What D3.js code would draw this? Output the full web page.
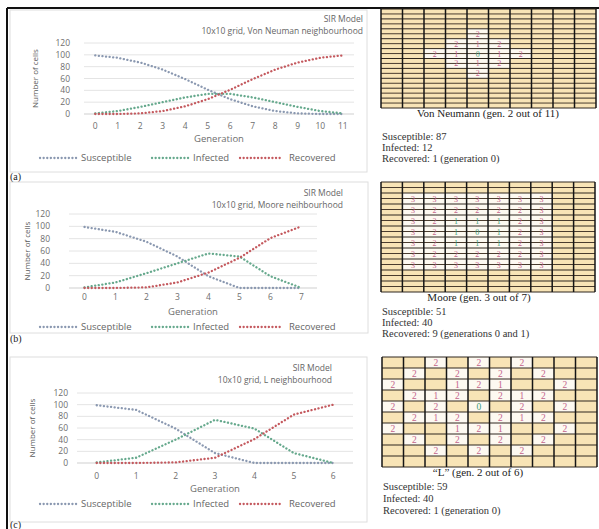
<!DOCTYPE html>
<html><head><meta charset="utf-8">
<script src="https://cdn.jsdelivr.net/npm/d3@7"></script>
<style>body{margin:0;background:#fff}svg{display:block}</style>
</head><body><svg id="c" width="599" height="529"></svg>
<script>
// ---------- data ----------
const seriesNames = ["Susceptible", "Infected", "Recovered"];
const yTicks = [0, 20, 40, 60, 80, 100, 120];

const genA = ["0","1","2","3","4","5","6","7","8","9","10","11"];
const susA = [99, 95, 87, 75, 59, 41, 25, 13, 5, 1, 0, 0];
const infA = [1, 5, 12, 20, 28, 34, 34, 28, 20, 12, 5, 1];
const recA = [0, 0, 1, 5, 13, 25, 41, 59, 75, 87, 95, 99];

const genB = ["0","1","2","3","4","5","6","7"];
const susB = [99, 91, 75, 51, 19, 0, 0, 0];
const infB = [1, 9, 24, 40, 56, 51, 19, 0];
const recB = [0, 0, 1, 9, 25, 49, 81, 100];

const genC = ["0","1","2","3","4","5","6"];
const susC = [99, 91, 59, 17, 0, 0, 0];
const infC = [1, 9, 40, 74, 59, 17, 0];
const recC = [0, 0, 1, 9, 41, 83, 100];

const titlesA = ["SIR Model", "10x10 grid, Von Neuman neighbourhood"];
const titlesB = ["SIR Model", "10x10 grid, Moore neihbourhood"];
const titlesC = ["SIR Model", "10x10 grid, L neighbourhood"];

// grid snapshots ('.' = susceptible, digit = generation infected)
const gridA = ["..........","..........","....2.....","...212....","..21012...","...212....","....2.....","..........","..........",".........."];
const gridB = ["..........",".3333333..",".3222223..",".3211123..",".3210123..",".3211123..",".3222223..",".3333333..","..........",".........."];
const gridC = ["..2.2.2...",".2.2.2.2..","2..121..2.",".212.212..","2.2.0.2.2.",".212.212..","2..121..2.",".2.2.2.2..","..2.2.2...",".........."];
const recoveredA = ["0"], recoveredB = ["0","1"], recoveredC = ["0"];

const captionA = "Von Neumann (gen. 2 out of 11)";
const captionB = "Moore (gen. 3 out of 7)";
const captionC = "\u201CL\u201D (gen. 2 out of 6)";
const statsA = ["Susceptible: 87", "Infected: 12", "Recovered: 1 (generation 0)"];
const statsB = ["Susceptible: 51", "Infected: 40", "Recovered: 9 (generations 0 and 1)"];
const statsC = ["Susceptible: 59", "Infected: 40", "Recovered: 1 (generation 0)"];
const panelLabels = ["(a)", "(b)", "(c)"];

// ---------- styles ----------
const colors = ["#8a98b0", "#66a98d", "#c4595e"];
const svg = d3.select("#c");
const sans = "Open Sans, Liberation Sans, sans-serif";
const serif = "Liberation Serif, DejaVu Serif, serif";

svg.append("line").attr("x1",7).attr("x2",599).attr("y1",8).attr("y2",8).attr("stroke","#111").attr("stroke-width",2);
svg.append("line").attr("x1",7).attr("x2",7).attr("y1",8).attr("y2",529).attr("stroke","#111").attr("stroke-width",2);

function chart(cfg) {
  const g = svg.append("g");
  g.append("rect").attr("x",cfg.box[0]).attr("y",cfg.box[1]).attr("width",cfg.box[2]-cfg.box[0]).attr("height",cfg.box[3]-cfg.box[1])
    .attr("fill","#fff").attr("stroke","#dedede").attr("stroke-width",1);
  const x = d3.scalePoint().domain(cfg.gens).range(cfg.xr).padding(0.5);
  const y = d3.scaleLinear().domain([0,120]).range([cfg.yb, cfg.yt]);
  g.selectAll(".gl").data(yTicks).join("line")
    .attr("x1",cfg.xr[0]).attr("x2",cfg.xr[1]).attr("y1",d=>y(d)).attr("y2",d=>y(d))
    .attr("stroke",d=>d===0?"#cfcfcf":"#e4e4e4").attr("stroke-width",1);
  g.selectAll(".yt").data(yTicks).join("text")
    .attr("x",cfg.ylx).attr("y",d=>y(d)+3).attr("text-anchor","end")
    .attr("font-family",sans).attr("font-size",8.5).attr("fill","#6e6e6e").text(d=>d);
  g.selectAll(".xt").data(cfg.gens).join("text")
    .attr("x",d=>x(d)).attr("y",cfg.xly+2.5).attr("text-anchor","middle")
    .attr("font-family",sans).attr("font-size",8.5).attr("fill","#6e6e6e").text(d=>d);
  g.append("text").attr("transform",`translate(${cfg.ytx},${(cfg.yt+cfg.yb)/2}) rotate(-90)`)
    .attr("text-anchor","middle").attr("font-family",sans).attr("font-size",8).attr("fill","#5a5a5a").text("Number of cells");
  g.append("text").attr("x",(cfg.xr[0]+cfg.xr[1])/2).attr("y",cfg.gty+5).attr("text-anchor","middle")
    .attr("font-family",sans).attr("font-size",9.5).attr("fill","#6e6e6e").text("Generation");
  cfg.titles.forEach((t,i)=>{
    g.append("text").attr("x",cfg.tr).attr("y",cfg.ty[i]+3).attr("text-anchor","end")
      .attr("font-family",sans).attr("font-size",8.5).attr("fill","#666").text(t);
  });
  const line = d3.line().x((d,i)=>x(cfg.gens[i])).y(d=>y(d));
  cfg.series.forEach((s,k)=>{
    g.append("path").attr("d",line(s)).attr("fill","none").attr("stroke",colors[k])
      .attr("stroke-width",2.3).attr("stroke-linecap","round").attr("stroke-dasharray","0.1,3.5");
  });
  const lx = [[40,77,81],[152,189,193],[240,283,289]];
  seriesNames.forEach((n,k)=>{
    g.append("line").attr("x1",lx[k][0]).attr("x2",lx[k][1]).attr("y1",cfg.ly).attr("y2",cfg.ly)
      .attr("stroke",colors[k]).attr("stroke-width",2.3).attr("stroke-linecap","round").attr("stroke-dasharray","0.1,3.5");
    g.append("text").attr("x",lx[k][2]).attr("y",cfg.ly+3).attr("font-family",sans).attr("font-size",9.5)
      .attr("fill","#666").text(n);
  });
}

chart({box:[10,10,367,172], gens:genA, series:[susA,infA,recA], xr:[84,354], yt:43, yb:114, ylx:70, ytx:38, xly:126, gty:137, ly:158, titles:titlesA, tr:363, ty:[19,31]});
chart({box:[10,182,368,333], gens:genB, series:[susB,infB,recB], xr:[69,317], yt:214, yb:288, ylx:50, ytx:30, xly:297, gty:310, ly:327, titles:titlesB, tr:343, ty:[193,205]});
chart({box:[10,357,367,522], gens:genC, series:[susC,infC,recC], xr:[77,353], yt:393, yb:463, ylx:68, ytx:35, xly:476, gty:487, ly:504, titles:titlesC, tr:332, ty:[368,380]});

function grid(cfg) {
  const g = svg.append("g");
  const cols = d3.range(10), rows = d3.range(10);
  const x = d3.scaleBand().domain(cols).range([cfg.x0,cfg.x1]);
  const y = d3.scaleBand().domain(rows).range([cfg.y0,cfg.y1]);
  const cells = [];
  cfg.data.forEach((r,ri)=>r.split("").forEach((c,ci)=>cells.push({r:ri,c:ci,v:c})));
  g.selectAll("rect").data(cells).join("rect")
    .attr("x",d=>x(d.c)).attr("y",d=>y(d.r)).attr("width",x.bandwidth()).attr("height",y.bandwidth())
    .attr("fill",d=>d.v==="."?"#f8e4b6":"#fdf9f1");
  if (cfg.mid) {
    g.selectAll(".mid").data(rows).join("line")
      .attr("x1",cfg.x0).attr("x2",cfg.x1).attr("y1",d=>y(d)+y.bandwidth()/2).attr("y2",d=>y(d)+y.bandwidth()/2)
      .attr("stroke","#4a3c2e").attr("stroke-width",1);
  }
  g.selectAll(".h").data(d3.range(11)).join("line")
    .attr("x1",cfg.x0).attr("x2",cfg.x1).attr("y1",d=>cfg.y0+d*y.step()).attr("y2",d=>cfg.y0+d*y.step())
    .attr("stroke","#2e261e").attr("stroke-width",1);
  g.selectAll(".v").data(d3.range(11)).join("line")
    .attr("x1",d=>cfg.x0+d*x.step()).attr("x2",d=>cfg.x0+d*x.step()).attr("y1",cfg.y0).attr("y2",cfg.y1)
    .attr("stroke","#151515").attr("stroke-width",1.5);
  g.selectAll(".d").data(cells.filter(d=>d.v!==".")).join("text")
    .attr("x",d=>x(d.c)+x.bandwidth()/2).attr("y",d=>y(d.r)+y.bandwidth()/2+3)
    .attr("text-anchor","middle").attr("font-family",serif).attr("font-size",cfg.digitSize)
    .attr("fill",d=>cfg.rec.includes(d.v)?"#3f9c7a":"#c4648c").text(d=>d.v);
  g.append("text").attr("x",cfg.cx).attr("y",cfg.y1+9).attr("text-anchor","middle")
    .attr("font-family",serif).attr("font-size",11).attr("fill","#222").text(cfg.caption);
  cfg.stats.forEach((s,i)=>{
    g.append("text").attr("x",cfg.x0+1).attr("y",cfg.sy+i*cfg.sd).attr("font-family",serif).attr("font-size",10.5)
      .attr("fill","#333").text(s);
  });
}

grid({x0:381,x1:596,y0:9,y1:108,data:gridA,rec:recoveredA,mid:true,digitSize:8,caption:captionA,cx:488,stats:statsA,sy:140,sd:11});
grid({x0:381,x1:595,y0:182,y1:292,data:gridB,rec:recoveredB,mid:true,digitSize:8,caption:captionB,cx:479,stats:statsB,sy:315,sd:11});
grid({x0:382,x1:597,y0:357,y1:467,data:gridC,rec:recoveredC,mid:false,digitSize:9.5,caption:captionC,cx:478,stats:statsC,sy:490,sd:12});

const labelY = [180, 342, 528];
panelLabels.forEach((t,i)=>{
  svg.append("text").attr("x",10).attr("y",labelY[i]).attr("font-family",serif).attr("font-size",10).attr("fill","#222").text(t);
});
</script>
</body></html>
